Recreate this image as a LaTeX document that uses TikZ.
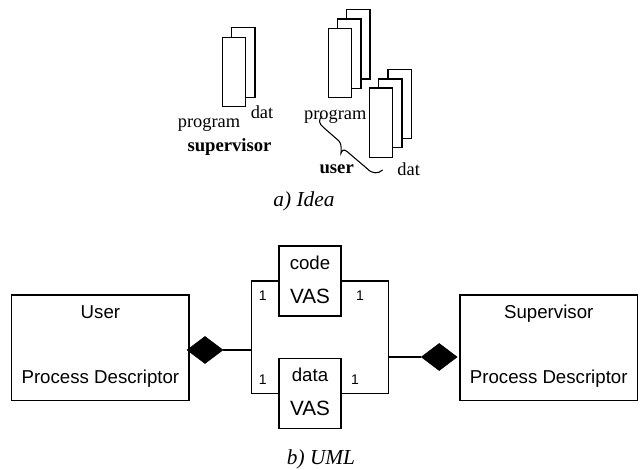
\documentclass[tikz,border=0pt]{standalone}
\usepackage{fontspec}
\setmainfont{Liberation Serif}
\setsansfont{Liberation Sans}
\usetikzlibrary{shapes.geometric}

\begin{document}
\begin{tikzpicture}[x=0.75pt,y=0.75pt,yscale=-1,xscale=1,
  page/.style={draw,fill=white,line width=0.8pt},
  idealbl/.style={font=\fontsize{13.8}{16}\selectfont,anchor=base,inner sep=0pt},
  ideabold/.style={font=\bfseries\fontsize{14}{16}\selectfont,anchor=base,inner sep=0pt},
  caption/.style={font=\itshape\fontsize{16}{18}\selectfont,anchor=base,inner sep=0pt},
  umlbox/.style={draw,line width=1.1pt,inner sep=0pt},
  umltxt/.style={font=\sffamily\fontsize{14}{16}\selectfont,anchor=base,inner sep=0pt},
  vastxt/.style={font=\sffamily\fontsize{15.5}{18}\selectfont,anchor=base,inner sep=0pt},
  multtxt/.style={font=\sffamily\fontsize{10.5}{12}\selectfont,anchor=base,inner sep=0pt},
  compo/.style={diamond,draw,fill=black,inner sep=0pt,minimum width=27pt,minimum height=20.4pt},
  assoc/.style={line width=1.1pt}]
\path[use as bounding box] (0,0) rectangle (640,470); %set diagram size 640 x 470

%Shape: Rectangle [id:dp supervisor dat] 
\draw[page] (231.7,27.7) rectangle (255,97.3) ;
%Shape: Rectangle [id:dp supervisor program] 
\draw[page] (222.3,37.3) rectangle (245.3,106.7) ;
%Shape: Rectangle [id:dp user program back] 
\draw[page] (346.7,9.3) rectangle (370,79) ;
%Shape: Rectangle [id:dp user program mid] 
\draw[page] (337.3,19) rectangle (361,88.3) ;
%Shape: Rectangle [id:dp user program front] 
\draw[page] (328.3,28.3) rectangle (351.7,97.3) ;
%Shape: Rectangle [id:dp user dat back] 
\draw[page] (388,69.3) rectangle (411.3,138.3) ;
%Shape: Rectangle [id:dp user dat mid] 
\draw[page] (378.7,79) rectangle (402,147.7) ;
%Shape: Rectangle [id:dp user dat front] 
\draw[page] (369.3,88) rectangle (392.7,157.3) ;

%Curve Lines [id:da user brace] 
\draw[line width=0.8pt] (322.3,116.7) .. controls (318,119) and (319,124) .. (323.3,127.3) -- (339,141) .. controls (342,144) and (341,150) .. (341,153.3) .. controls (342,150) and (344,149) .. (347,151.5) -- (367,168.5) .. controls (372,174) and (378,174) .. (382.7,170) ;

% a) Idea labels
\node[idealbl] (svprog) at (209,127.3) {program};
\node[idealbl] (svdat) at (262,118.3) {dat};
\node[ideabold] (svname) at (229.5,151.7) {supervisor};
\node[idealbl] (usprog) at (335.3,119.3) {program};
\node[ideabold] (usname) at (336.7,174) {user};
\node[idealbl] (usdat) at (408.7,176) {dat};
\node[caption] (capa) at (304,206.7) {a) Idea};

% b) UML
\node[umlbox,minimum width=133pt,minimum height=79.3pt] (userpd) at (100.4,347.9) {};
\node[umltxt] (userlbl) at (100.4,318.3) {User};
\node[umltxt] (userdesc) at (100.4,383.3) {Process Descriptor};
\node[umlbox,minimum width=133.1pt,minimum height=79.3pt] (superpd) at (548.75,347.9) {};
\node[umltxt] (superlbl) at (548.75,318.3) {Supervisor};
\node[umltxt] (superdesc) at (548.75,383.3) {Process Descriptor};

\node[umlbox,minimum width=46.5pt,minimum height=52.5pt] (codebox) at (310,281) {};
\node[umltxt] (codelbl) at (310,269.3) {code};
\node[vastxt] (codevas) at (310,304) {VAS};
\node[umlbox,minimum width=46.5pt,minimum height=52.5pt] (databox) at (310,393.3) {};
\node[umltxt] (datalbl) at (310,381.7) {data};
\node[vastxt] (datavas) at (310,415.7) {VAS};

\node[compo] (ldia) at (205,350) {};
\node[compo] (rdia) at (439.2,357) {};

\coordinate (lmid) at (251.7,350);
\coordinate (ltop) at (251.7,281);
\coordinate (lbot) at (251.7,393.3);
\coordinate (rtop) at (388.3,281);
\coordinate (rbot) at (388.3,393.3);
\coordinate (rmid) at (388.3,357);

%Straight Lines 
\draw[assoc] (ldia.east) -- (lmid) ;
\draw[assoc] (codebox.west) -- (ltop) -- (lbot) -- (databox.west) ;
\draw[assoc] (codebox.east) -- (rtop) -- (rbot) -- (databox.east) ;
\draw[assoc] (rmid) -- (rdia.west) ;

\node[multtxt] (m1) at (262.7,300.7) {1};
\node[multtxt] (m2) at (360,300.7) {1};
\node[multtxt] (m3) at (262.7,385) {1};
\node[multtxt] (m4) at (355,385) {1};

\node[caption] (capb) at (321,465) {b) UML};

\end{tikzpicture}
\end{document}
